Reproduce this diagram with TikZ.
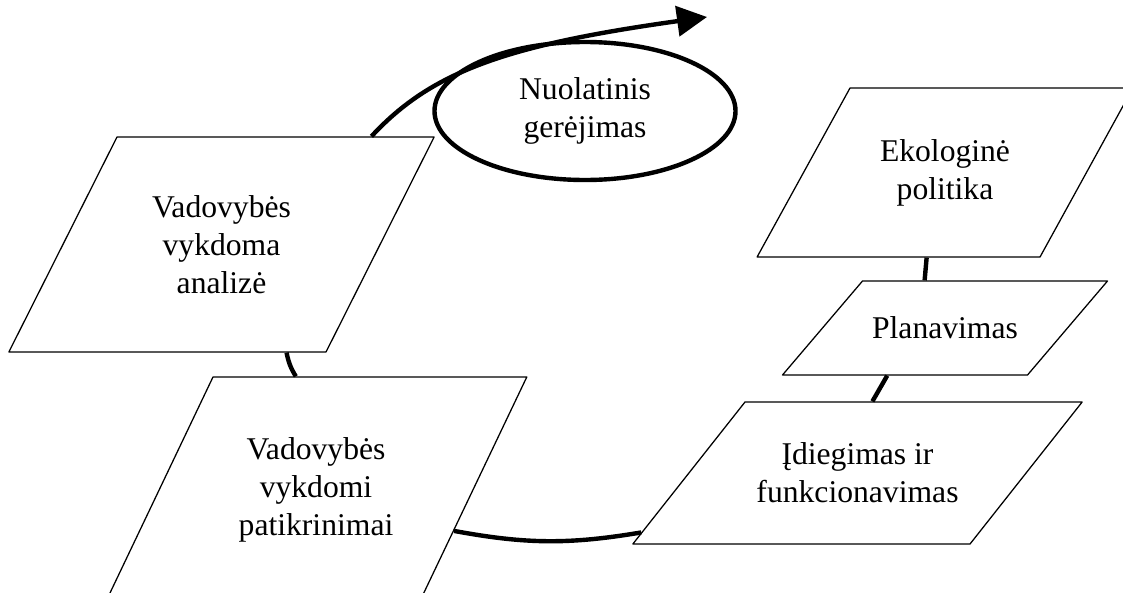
\documentclass[tikz,border=0pt]{standalone}
\usepackage{fontspec}
\setmainfont{Liberation Serif}
\usetikzlibrary{shapes.geometric,arrows.meta,calc}
\newcommand{\boxtext}[3]{\parbox[c][#2][c]{#1}{\centering #3}}

\begin{document}
\begin{tikzpicture}[x=0.25mm, y=-0.25mm, line join=round,
		font=\fontsize{22.5}{27}\selectfont,
		box/.style={draw, line width=0.9pt, fill=white, trapezium, inner sep=0pt},
		flow/.style={line width=1.1mm}]
	\useasboundingbox (0,0) rectangle (1123,592);
	% the steps
	\node[box, trapezium left angle=61.2, trapezium right angle=118.8] (ek) at (945,172.5) {\boxtext{47.5mm}{42.25mm}{Ekologinė\\politika}};
	\node[box, trapezium left angle=49.6, trapezium right angle=130.4] (pl) at (945,328) {\boxtext{41.25mm}{23.5mm}{Planavimas}};
	\node[box, trapezium left angle=51.7, trapezium right angle=128.3] (id) at (857.5,473) {\boxtext{56.25mm}{35.5mm}{Įdiegimas ir\\funkcionavimas}};
	\node[box, trapezium left angle=64.5, trapezium right angle=115.5] (pt) at (316,490) {\boxtext{51.5mm}{56.5mm}{Vadovybės\\vykdomi\\patikrinimai}};
	\node[box, trapezium left angle=63.3, trapezium right angle=116.7] (an) at (221.5,244.5) {\boxtext{52.25mm}{53.75mm}{Vadovybės\\vykdoma\\analizė}};
	\node[draw, ellipse, line width=1.1mm, fill=white, align=center, inner sep=0pt, minimum width=75.25mm, minimum height=34.5mm] (ng) at (585,111) {Nuolatinis\\gerėjimas};
	\coordinate (tip) at (707,17);
	% the cycle
	\draw[flow] ($(ek.bottom left corner)!0.6!(ek.bottom right corner)$) -- ($(pl.top left corner)!0.253!(pl.top right corner)$);
	\draw[flow] ($(pl.bottom left corner)!0.43!(pl.bottom right corner)$) -- ($(id.top left corner)!0.377!(id.top right corner)$);
	\draw[flow] ($(id.bottom left corner)!0.085!(id.top left corner)$) to[bend left=10] ($(pt.bottom right corner)!0.32!(pt.top right corner)$);
	\draw[flow] ($(pt.top left corner)!0.264!(pt.top right corner)$) to[bend left=10] ($(an.bottom left corner)!0.875!(an.bottom right corner)$);
	\draw[flow, -{Triangle[length=7.5mm, width=7.5mm]}] ($(an.top left corner)!0.8!(an.top right corner)$) .. controls +(60,-65) and +(-200,28) .. (tip);
\end{tikzpicture}
\end{document}
